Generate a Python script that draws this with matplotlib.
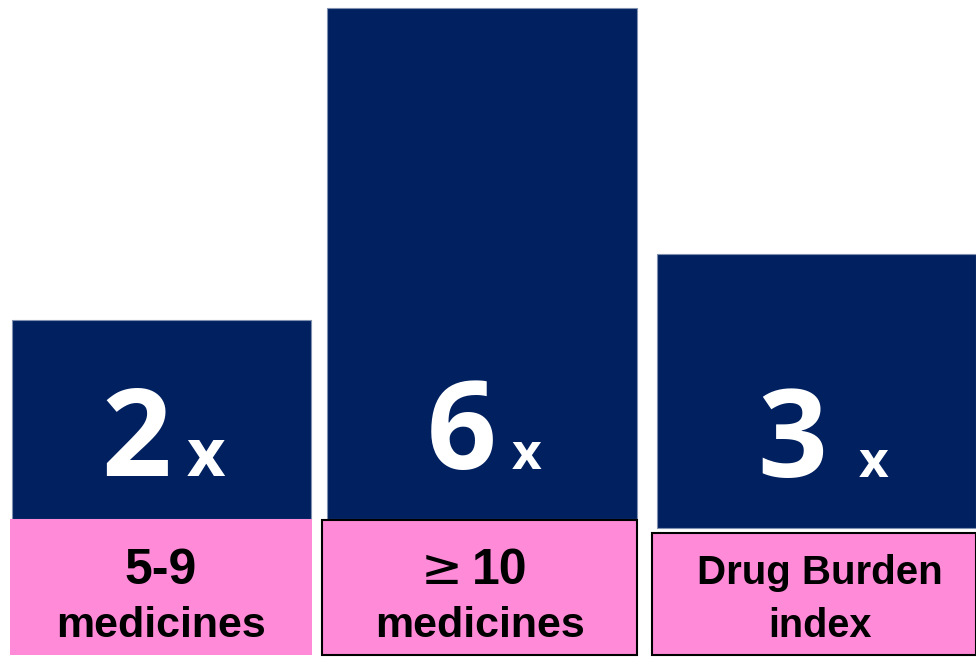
import matplotlib.pyplot as plt

# values
multipliers = ["2", "6", "3"]
bar_heights = [199, 511, 274]          # visual bar heights (px scale)
label_top = ["5-9", "≥ 10", "Drug Burden"]
label_bottom = ["medicines", "medicines", "index"]

# layout (pixel space, y measured from the bottom of the figure)
W, H = 976, 657
bar_left = [12, 327, 657]
bar_width = [299, 310, 319]
bar_base = [138, 138, 129]
box_left = [10, 322, 652]
box_width = [302, 315, 324]
box_top = [138, 137, 124]
box_edge = ["none", "black", "black"]
num_x = [136, 462, 792]
num_base = [181, 188, 180]
x_x = [206, 527, 874]
x_size = [48, 37, 37]
label_x = [161, 480, 820]
top_size = [36, 36, 29]
bottom_size = [31, 31, 28.5]

navy = "#002060"
pink = "#FF8AD8"

fig = plt.figure(figsize=(W / 100, H / 100), dpi=100)
ax = fig.add_axes([0, 0, 1, 1])
ax.set_xlim(0, W)
ax.set_ylim(0, H)
ax.axis("off")

# navy bars
ax.bar(bar_left, bar_heights, width=bar_width, bottom=bar_base, align="edge",
       color=navy, edgecolor="#8090b0", linewidth=0.8)

# pink label boxes
for i in range(3):
    ax.bar(box_left[i], box_top[i] - 2, width=box_width[i], bottom=2, align="edge",
           color=pink, edgecolor=box_edge[i], linewidth=1.5)

for i in range(3):
    ax.text(num_x[i], num_base[i], multipliers[i], ha="center", va="baseline",
            color="white", fontsize=88, fontweight="bold", family="Open Sans")
    ax.text(x_x[i], num_base[i], "x", ha="center", va="baseline",
            color="white", fontsize=x_size[i], fontweight="bold", family="Open Sans")

    top = label_top[i]
    if top.startswith("≥"):
        # the sign is set thinner than the number in the original
        ax.text(label_x[i] - 38, 657 - 584, "≥", ha="center", va="baseline",
                color="black", fontsize=top_size[i], family="DejaVu Sans")
        ax.text(label_x[i] + 20, 657 - 584, top[1:].strip(), ha="center", va="baseline",
                color="black", fontsize=top_size[i], fontweight="bold", family="Liberation Sans")
    else:
        ax.text(label_x[i], 657 - 584, top, ha="center", va="baseline",
                color="black", fontsize=top_size[i], fontweight="bold", family="Liberation Sans")
    ax.text(label_x[i], 657 - 637, label_bottom[i], ha="center", va="baseline",
            color="black", fontsize=bottom_size[i], fontweight="bold", family="Liberation Sans")

fig.savefig("out.png", dpi=100)
